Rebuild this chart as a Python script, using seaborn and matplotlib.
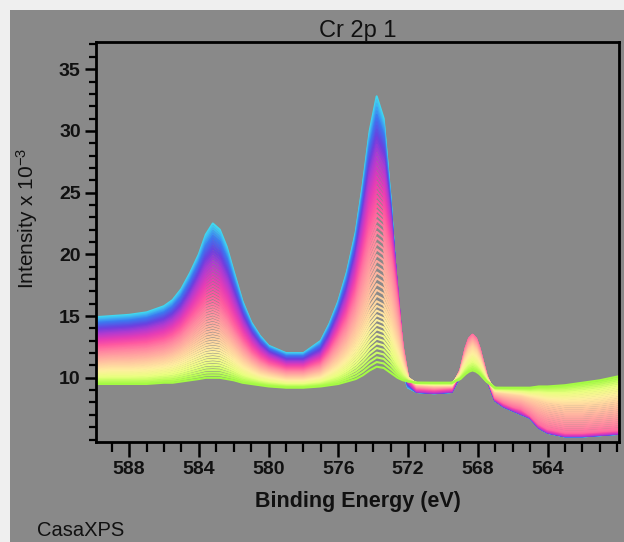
import numpy as np
import pandas as pd
import matplotlib
matplotlib.use("Agg")
import matplotlib.pyplot as plt
import seaborn as sns
from matplotlib.colors import LinearSegmentedColormap
from matplotlib.ticker import MultipleLocator
from matplotlib.patches import Rectangle

# binding energy grid (eV)
energy = [590, 589, 588, 587, 586, 585.5, 585, 584.5, 584, 583.6,
          583.2, 582.8, 582.4, 582, 581.5, 581, 580.5, 580, 579, 578,
          577, 576.5, 576, 575.5, 575, 574.6, 574.2, 573.8, 573.4, 573,
          572.6, 572.3, 572, 571.5, 570.5,
          569.5, 569, 568.7, 568.5, 568.3, 568.1, 567.9, 567.5,
          567, 566.5, 566, 565.5, 565, 564.5, 564, 563, 562, 561, 560, 559.5]

# intensity x 10^-3 of a few spectra across the stack (first .. last)
scan_first = [14.9, 15.0, 15.1, 15.3, 15.8, 16.3, 17.2, 18.5, 20.0, 21.6,
              22.5, 22.0, 20.6, 18.6, 16.2, 14.5, 13.4, 12.6, 12.0, 12.0,
              13.0, 14.4, 16.2, 18.6, 21.8, 25.6, 30.0, 32.8, 31.0, 24.5,
              16.0, 10.5, 9.2, 8.85, 8.75,
              8.85, 10.2, 12.0, 12.8, 13.1, 12.8, 12.0, 10.0,
              8.15, 7.65, 7.35, 7.05, 6.75, 5.95, 5.55, 5.25, 5.25, 5.35, 5.45, 5.45]
scan_quarter = [13.6, 13.7, 13.8, 14.0, 14.4, 14.8, 15.5, 16.6, 17.9, 19.0,
                19.6, 19.2, 18.0, 16.5, 14.7, 13.4, 12.5, 11.9, 11.3, 11.3,
                12.0, 13.2, 14.8, 16.8, 19.6, 22.8, 26.4, 28.5, 27.4, 23.0,
                17.0, 12.0, 9.6, 8.9, 8.8,
                8.9, 10.4, 12.2, 13.0, 13.3, 13.0, 12.2, 10.1,
                8.2, 7.7, 7.4, 7.1, 6.8, 6.0, 5.6, 5.3, 5.3, 5.4, 5.5, 5.5]
scan_half = [12.3, 12.4, 12.5, 12.6, 12.9, 13.2, 13.7, 14.5, 15.3, 15.9,
             16.1, 15.8, 15.0, 14.0, 12.9, 12.0, 11.4, 11.0, 10.6, 10.6,
             11.1, 12.0, 13.2, 14.6, 16.6, 19.0, 21.5, 23.0, 22.5, 20.0,
             16.0, 12.5, 10.0, 9.2, 9.1,
             9.2, 10.6, 12.4, 13.2, 13.5, 13.2, 12.4, 10.2,
             8.4, 8.0, 7.7, 7.5, 7.0, 6.3, 5.9, 5.6, 5.6, 5.7, 5.8, 5.8]
scan_3quarter = [10.9, 11.0, 11.0, 11.1, 11.3, 11.5, 11.8, 12.2, 12.6, 12.9,
                 13.0, 12.9, 12.5, 12.0, 11.3, 10.8, 10.4, 10.2, 9.9, 9.9,
                 10.2, 10.7, 11.3, 12.1, 13.2, 14.3, 15.5, 16.3, 16.0, 14.8,
                 12.8, 11.2, 10.0, 9.5, 9.4,
                 9.4, 10.4, 11.6, 12.2, 12.5, 12.2, 11.6, 10.0,
                 8.9, 8.8, 8.7, 8.6, 8.4, 8.2, 8.0, 7.8, 7.8, 7.9, 8.1, 8.2]
scan_last = [9.5, 9.5, 9.5, 9.5, 9.6, 9.6, 9.7, 9.8, 9.9, 10.0,
             10.0, 10.0, 9.9, 9.8, 9.6, 9.5, 9.4, 9.3, 9.2, 9.2,
             9.3, 9.4, 9.5, 9.7, 9.9, 10.2, 10.6, 10.9, 10.8, 10.4,
             10.0, 9.8, 9.7, 9.6, 9.6,
             9.6, 9.9, 10.3, 10.5, 10.6, 10.5, 10.3, 9.7,
             9.2, 9.2, 9.2, 9.2, 9.2, 9.3, 9.3, 9.4, 9.6, 9.8, 10.1, 10.2]
scan_pos = [0.0, 0.25, 0.5, 0.75, 1.0]
n_scans = 58

x_ticks = [588, 584, 580, 576, 572, 568, 564]
y_ticks = [10, 15, 20, 25, 30, 35]

key = np.array([scan_first, scan_quarter, scan_half, scan_3quarter, scan_last])
frac = np.linspace(0, 1, n_scans)
rows = []
for i, f in enumerate(frac):
    yy = [np.interp(f, scan_pos, key[:, j]) for j in range(len(energy))]
    rows.append(pd.DataFrame({"energy": energy, "intensity": yy, "scan": i}))
df = pd.concat(rows, ignore_index=True)

casa = LinearSegmentedColormap.from_list("casa", [
    '#40d8f0', '#3c78f0', '#6a40e0', '#b43ad0', '#e83cb4', '#ff5aa0',
    '#ff86a0', '#ffaaa0', '#ffcca0', '#ffeea0', '#eaff80', '#a4fa44'])
pal = [casa(f) for f in frac]

sns.set_style("ticks")
plt.rcParams['font.family'] = ['Liberation Sans', 'DejaVu Sans']
plt.rcParams['mathtext.default'] = 'regular'

fig = plt.figure(figsize=(6.24, 5.42), dpi=100, facecolor='#efefef')
fig.patches.append(Rectangle((10 / 624, 0), 1, 1 - 10 / 542, transform=fig.transFigure,
                             facecolor='#898989', edgecolor='none', zorder=-10))
ax = fig.add_axes([96 / 624, 100 / 542, 523 / 624, 400 / 542])
ax.set_facecolor('#898989')

sns.lineplot(data=df, x='energy', y='intensity', hue='scan', palette=pal,
             legend=False, estimator=None, sort=False, linewidth=1.5, ax=ax)

ax.set_xlim(589.9, 559.9)
ax.set_ylim(4.8, 37.2)
ax.set_xticks(x_ticks)
ax.set_yticks(y_ticks)
ax.xaxis.set_minor_locator(MultipleLocator(1))
ax.yaxis.set_minor_locator(MultipleLocator(1))
ax.tick_params(which='both', color='black', labelsize=14, labelcolor='#111111')
ax.tick_params(axis='x', which='major', length=11, width=1.8, pad=3)
ax.tick_params(axis='x', which='minor', length=7, width=1.6)
ax.tick_params(axis='y', which='major', length=8, width=1.8, pad=3)
ax.tick_params(axis='y', which='minor', length=5, width=1.6)
for lab in ax.get_xticklabels() + ax.get_yticklabels():
    lab.set_fontweight('bold')
for s in ax.spines.values():
    s.set_linewidth(2.0)
    s.set_color('black')

ax.set_xlabel('Binding Energy (eV)', fontsize=15.5, fontweight='bold', color='#111111')
ax.xaxis.set_label_coords(0.5, -0.122)
ax.set_ylabel('Intensity x 10$^{-3}$', fontsize=15, color='#111111')
ax.yaxis.set_label_coords(-0.108, 0.56)
ax.set_title('Cr 2p 1', fontsize=17, pad=2, color='#111111')
fig.text(37 / 624, 1 - 530 / 542, 'CasaXPS', fontsize=14.5, va='center', color='#111111')

fig.savefig('out.png', dpi=100, facecolor=fig.get_facecolor())
